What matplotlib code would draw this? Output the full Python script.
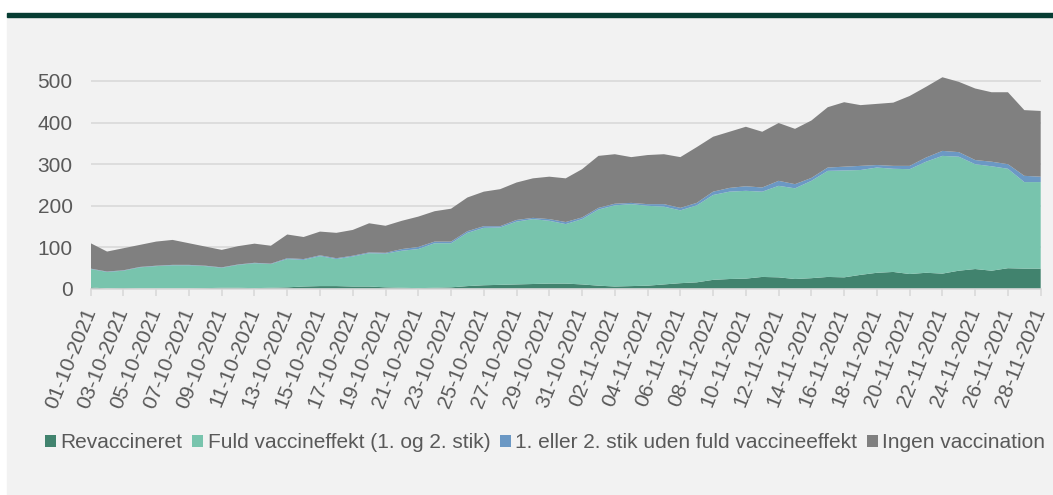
# -*- coding: utf-8 -*-
import numpy as np
import pandas as pd
import matplotlib
matplotlib.use("Agg")
import matplotlib.pyplot as plt
from matplotlib.patches import Rectangle, Patch

# Daily values 01-10-2021 .. 28-11-2021
dates = pd.date_range("2021-10-01", "2021-11-28", freq="D")

revaccineret = [4, 1, 2, 1, 1, 1, 1, 2, 3, 3, 2, 3, 4, 6, 7, 7, 6, 6, 4, 3,
                2, 3, 4, 7, 9, 10, 11, 12, 13, 13, 11, 8, 6, 7, 8, 11, 14, 16, 22, 24,
                25, 29, 28, 24, 26, 29, 28, 34, 39, 41, 36, 39, 37, 44, 48, 44, 50, 49, 49]
fuld = [44, 40, 42, 51, 54, 56, 56, 53, 48, 55, 60, 57, 68, 64, 72, 65, 72, 80, 81, 89,
        94, 107, 106, 128, 138, 138, 151, 156, 151, 143, 157, 183, 195, 197, 192, 187, 175, 185, 204, 210,
        211, 205, 220, 218, 234, 255, 257, 252, 253, 248, 252, 267, 283, 274, 252, 251, 239, 208, 208]
delvis = [1, 1, 1, 1, 1, 1, 1, 1, 1, 1, 1, 1, 2, 2, 2, 2, 2, 2, 2, 4,
          5, 4, 4, 4, 4, 3, 4, 3, 4, 5, 4, 4, 4, 3, 4, 6, 6, 6, 8, 9,
          11, 10, 12, 10, 7, 8, 9, 10, 6, 7, 8, 10, 12, 11, 10, 11, 11, 15, 13]
ingen = [61, 48, 53, 53, 58, 60, 52, 46, 42, 44, 46, 43, 57, 53, 57, 61, 62, 70, 65, 68,
         73, 73, 79, 81, 83, 89, 90, 95, 102, 105, 116, 125, 119, 110, 118, 120, 122, 134, 132, 135,
         143, 134, 139, 133, 138, 145, 155, 146, 147, 152, 168, 170, 177, 169, 172, 167, 173, 158, 158]

series_names = ["Revaccineret", "Fuld vaccineffekt (1. og 2. stik)",
                "1. eller 2. stik uden fuld vaccineeffekt", "Ingen vaccination"]
colors = ["#41836e", "#78c4ad", "#6b98c4", "#808080"]

TEXT_COLOR = "#595959"
GRID_COLOR = "#d9d9d9"
PANEL_COLOR = "#f2f2f2"
FS = 15

plt.rcParams['font.family'] = ['Liberation Sans', 'DejaVu Sans']

W, H = 1053, 495
fig = plt.figure(figsize=(W / 100, H / 100), dpi=100, facecolor="white")

# grey panel + dark green bar on top
fig.patches.append(Rectangle((7 / W, 0), 1, (H - 16) / H, transform=fig.transFigure,
                             color=PANEL_COLOR, zorder=-2))
fig.patches.append(Rectangle((7 / W, (H - 16.5) / H), 1, 3.5 / H, transform=fig.transFigure,
                             color="#073d33", zorder=-1))

ax = fig.add_axes([90.7 / W, 206 / H, 950 / W, 228.8 / H])
ax.set_facecolor("none")

x = np.arange(len(dates))
ax.stackplot(x, revaccineret, fuld, delvis, ingen, colors=colors, linewidth=0, zorder=2)

ax.set_xlim(0, len(dates) - 1)
ax.set_ylim(0, 550)
ax.set_yticks([0, 100, 200, 300, 400, 500])
ax.grid(axis="y", color=GRID_COLOR, linewidth=1.2, zorder=0)
ax.set_axisbelow(True)

for s in ["top", "right", "left"]:
    ax.spines[s].set_visible(False)
ax.spines["bottom"].set_color(GRID_COLOR)
ax.spines["bottom"].set_linewidth(1.2)
ax.spines["bottom"].set_zorder(3)

tick_pos = x[::2]
ax.set_xticks(tick_pos)
ax.set_xticklabels([d.strftime("%d-%m-%Y") for d in dates[::2]], rotation=68,
                   ha="right", va="center", rotation_mode="anchor")
ax.tick_params(axis="x", length=5, width=1.2, color=GRID_COLOR, pad=9,
               labelsize=FS, labelcolor=TEXT_COLOR)
ax.tick_params(axis="y", length=0, pad=13, labelsize=FS, labelcolor=TEXT_COLOR)

# legend runs off the right edge, as in the original
handles = [Patch(facecolor=c, edgecolor="none") for c in colors]
fig.legend(handles, series_names, loc="center left", bbox_to_anchor=(45 / W, 1 - 443 / H),
           ncol=4, frameon=False, fontsize=FS, labelcolor=TEXT_COLOR,
           handlelength=0.55, handleheight=0.55, handletextpad=0.2, columnspacing=0.45,
           borderaxespad=0, borderpad=0)

fig.savefig("out.png", dpi=100)
